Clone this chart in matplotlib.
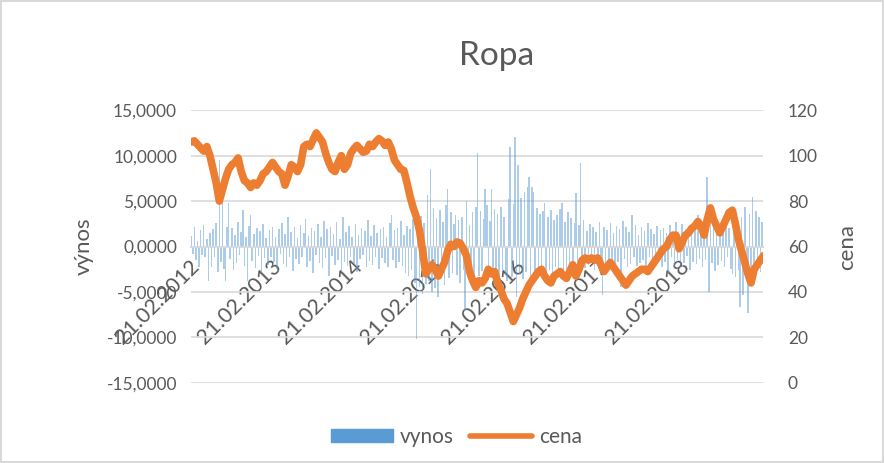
import matplotlib
matplotlib.use("Agg")
import matplotlib.pyplot as plt
import matplotlib.transforms as mtransforms
from matplotlib.patches import Patch
from matplotlib.lines import Line2D
import pandas as pd

plt.rcParams['font.family'] = ['Lato', 'DejaVu Sans']

# cena, dvoutydenni kroky od 21.02.2012
cena = [106, 106.5, 105, 103.5, 102, 104, 100, 94, 88, 80, 85, 90, 94, 96, 97, 99,
        93, 89, 88, 86, 88, 87, 89, 92, 93, 95, 97, 95, 93, 92, 87, 91, 96, 95, 93, 96,
        104, 105, 104, 107, 110, 108, 106, 101, 97, 94, 93, 97, 100, 94, 96, 101, 103,
        104.5, 103, 101.5, 102, 105, 104, 106, 107.5, 106.5, 104.5, 106, 103, 98, 96,
        94, 93.5, 88, 82, 77, 73, 67, 58, 48, 50, 52, 50, 47, 50, 53, 58, 61, 60, 62,
        61.5, 59, 56, 49, 45, 42, 45, 44, 46, 50, 48, 49, 44, 41, 37, 35, 31, 27, 30,
        33, 37, 40, 43, 45, 47, 49, 50, 47, 45, 44, 47, 48, 49, 47, 46, 49, 52, 47, 50,
        54, 55, 54, 55, 54, 55, 52, 49, 51, 53, 51, 49, 47, 45, 43, 45, 47, 48, 49, 50,
        50, 49, 51, 53, 55, 57, 59, 60, 63, 65, 65, 59, 62, 65, 66, 68, 69, 71, 69, 65,
        72, 77, 72, 69, 66, 69, 72, 75, 76, 70, 63, 58, 53, 48, 44, 50, 52, 54, 56]

# vynos - tydenni odhad z grafu (%)
vynos = [1.2, -0.8, 2.1, -1.5, 0.6, -2.2, 1.8, -0.9, 2.4, -1.2, 0.8, -3.8, 1.5,
         -2.3, 1.9, -1.1, 2.6, -2.8, 9.5, -1.7, 4.8, -2.5, -3.8, 2.2, 4.8, -1.4,
         2.0, -2.6, 1.3, -1.8, 2.7, -0.9, 1.6, 4.0, -2.1, 1.1, -3.8, 2.3, 3.5,
         -1.6, 1.4, -2.4, 2.0, -1.0, 1.7, -2.9, 2.5, -1.3, 0.9, -2.0, 1.8, -1.1,
         2.2, -1.7, 1.0, -2.5, 1.9, -0.8, 2.6, -1.9, 1.4, -2.2, 3.3, -1.2, 1.6,
         -2.7, 2.1, -1.4, 0.9, -1.9, 2.4, -1.1, 1.5, 3.0, -2.3, 1.2, -1.6, 2.0,
         -2.9, 1.7, -0.9, 2.5, -1.8, 1.1, -2.4, 2.8, -1.3, 1.9, -3.2, 2.2, -1.0,
         1.4, -2.0, 2.7, -1.5, 0.8, -2.6, 3.2, -1.7, 1.6, -2.1, 2.3, -1.2, 1.0,
         -1.9, 2.5, -2.8, 1.3, -1.4, 2.0, -0.9, 1.7, -2.3, 2.9, -1.6, 1.2, -2.0,
         2.4, -1.1, 1.5, -2.5, 1.9, -1.3, 2.2, -1.8, 1.0, -2.2, 2.6, 3.5, -1.5,
         1.8, -2.4, 2.0, -1.7, 2.8, -2.1, 1.3, -2.9, 2.3, -3.2, 1.9, -2.6, 3.0,
         -4.0, -10.2, 2.8, -4.5, 3.4, -5.2, 2.6, -4.1, 5.7, -3.8, 8.5, -5.0, 4.2,
         -4.6, 3.1, -5.5, 4.0, -3.3, 2.7, -4.2, 4.6, 6.3, -3.5, 3.8, -2.9, 2.5,
         3.5, -3.1, 2.9, -4.0, 3.3, -2.6, -7.0, 5.0, -3.4, 2.4, -2.8, 3.8, -3.6,
         4.4, 10.3, -3.2, 3.9, -2.7, 3.0, 6.3, 4.6, -3.5, 2.8, 6.3, -3.0, 4.1,
         -2.9, 3.6, -3.3, 4.4, -2.6, 3.2, -3.1, -3.8, 5.2, 10.9, -3.4, 4.7, 12.0,
         -5.6, 9.0, -3.0, 5.3, -3.6, 6.0, -2.8, 6.5, 7.6, -3.3, 6.5, 6.0, -2.9,
         4.2, -3.5, 3.6, -2.4, 3.9, 4.8, -3.1, 3.3, -2.6, 4.0, -3.4, 2.9, -2.2,
         3.5, -2.8, 4.1, 4.8, -3.0, 2.7, -2.5, 3.8, -2.9, 3.1, -2.3, 2.6, 5.9,
         -2.1, 2.4, 9.2, -1.8, 2.9, -2.4, 1.7, -2.0, 2.5, -1.5, 2.1, -2.6, 1.6,
         -1.9, 2.7, -1.3, -5.3, 2.2, -2.4, 1.8, -1.6, 2.6, -2.0, 1.5, -2.8, 2.3,
         -1.7, 1.9, -4.5, 2.8, -1.4, 2.1, -2.3, 1.6, -1.9, 3.5, -1.2, 2.4, -2.1,
         1.3, -1.8, 2.2, -1.5, 1.7, -2.5, 2.6, -1.1, 1.9, -2.0, 1.4, -1.6, 2.3,
         -1.3, 1.8, -2.2, 2.0, -1.7, 1.5, -2.9, 2.4, -1.2, 1.6, -2.4, 2.7, -1.5,
         1.2, -2.1, 2.5, -1.8, 1.9, -1.0, 2.2, -2.6, 1.4, -1.7, 2.6, -1.9, 3.5,
         -1.4, 2.3, -2.2, 1.7, -1.5, 7.7, -5.0, 2.8, -1.8, 2.1, -2.7, 1.6, -2.0,
         2.5, -1.6, 1.8, -2.3, 2.9, -1.2, 2.0, -2.5, -3.0, 1.6, -3.4, 2.8, -2.6,
         -6.7, 3.2, -5.3, 4.4, -3.8, -7.3, 3.6, -2.9, 5.4, -3.1, 3.9, -2.4, 3.3,
         -2.8, 2.7]

tick_labels = ['21.02.2012', '21.02.2013', '21.02.2014', '21.02.2015',
               '21.02.2016', '21.02.2017', '21.02.2018']

cena_dates = pd.date_range('2012-02-21', periods=len(cena), freq='14D')
vynos_dates = pd.date_range('2012-02-21', periods=len(vynos), freq='7D')

grey = '#595959'
blue = '#5B9BD5'
orange = '#ED7D31'

fig = plt.figure(figsize=(8.84, 4.63), dpi=100)
fig.patch.set_edgecolor('#d9d9d9')
fig.patch.set_linewidth(1.5)
ax = fig.add_axes([0.216, 0.173, 0.647, 0.589])

ax.bar(vynos_dates, vynos, width=7, color=blue, alpha=0.5, linewidth=0)
ax.set_ylim(-15, 15)
ax.set_yticks(range(-15, 16, 5))
ax.set_yticklabels([f'{v:,.4f}'.replace('.', ',') for v in range(-15, 16, 5)])
ax.yaxis.grid(True, color='#d9d9d9', lw=1.2)
ax.set_axisbelow(True)
ax.set_xlim(pd.Timestamp('2012-02-20'), pd.Timestamp('2019-02-23'))

tick_dates = [pd.to_datetime(t, format='%d.%m.%Y') for t in tick_labels]
ax.set_xticks(tick_dates)
ax.set_xticklabels(tick_labels)
for s in ['top', 'right', 'left']:
    ax.spines[s].set_visible(False)
ax.spines['bottom'].set_position(('data', 0))
ax.spines['bottom'].set_color('#d9d9d9')
ax.spines['bottom'].set_linewidth(1.5)
ax.tick_params(axis='both', length=0, colors=grey)
ax.tick_params(axis='y', labelsize=12.5, pad=10)
ax.tick_params(axis='x', labelsize=15.5, pad=7, labelrotation=45)
ax.set_ylabel('výnos', color=grey, fontsize=16, labelpad=9)

ax2 = ax.twinx()
ax2.plot(cena_dates, cena, color=orange, lw=5.5, solid_capstyle='round',
         solid_joinstyle='round')
ax2.set_ylim(0, 120)
ax2.set_yticks(range(0, 121, 20))
for s in ['top', 'right', 'left', 'bottom']:
    ax2.spines[s].set_visible(False)
ax2.tick_params(axis='y', length=0, colors=grey, labelsize=12.5, pad=18)
ax2.set_ylabel('cena', color=grey, fontsize=16, labelpad=14)

fig.text(0.562, 0.88, 'Ropa', ha='center', va='center', fontsize=24, color=grey)

handles = [Patch(color=blue), Line2D([], [], color=orange, lw=4, solid_capstyle='round')]
fig.legend(handles, ['vynos', 'cena'], loc='center', bbox_to_anchor=(0.516, 0.056), ncol=2,
           frameon=False, fontsize=15, labelcolor=grey, handlelength=3.0,
           handleheight=0.6, columnspacing=0.8, handletextpad=0.3)

shift = mtransforms.ScaledTranslation(-2 / 100, 0, fig.dpi_scale_trans)
for lbl in ax.get_xticklabels():
    lbl.set_rotation(45)
    lbl.set_ha('right')
    lbl.set_va('top')
    lbl.set_rotation_mode('anchor')
    lbl.set_transform(lbl.get_transform() + shift)

fig.savefig('out.png', dpi=100)
